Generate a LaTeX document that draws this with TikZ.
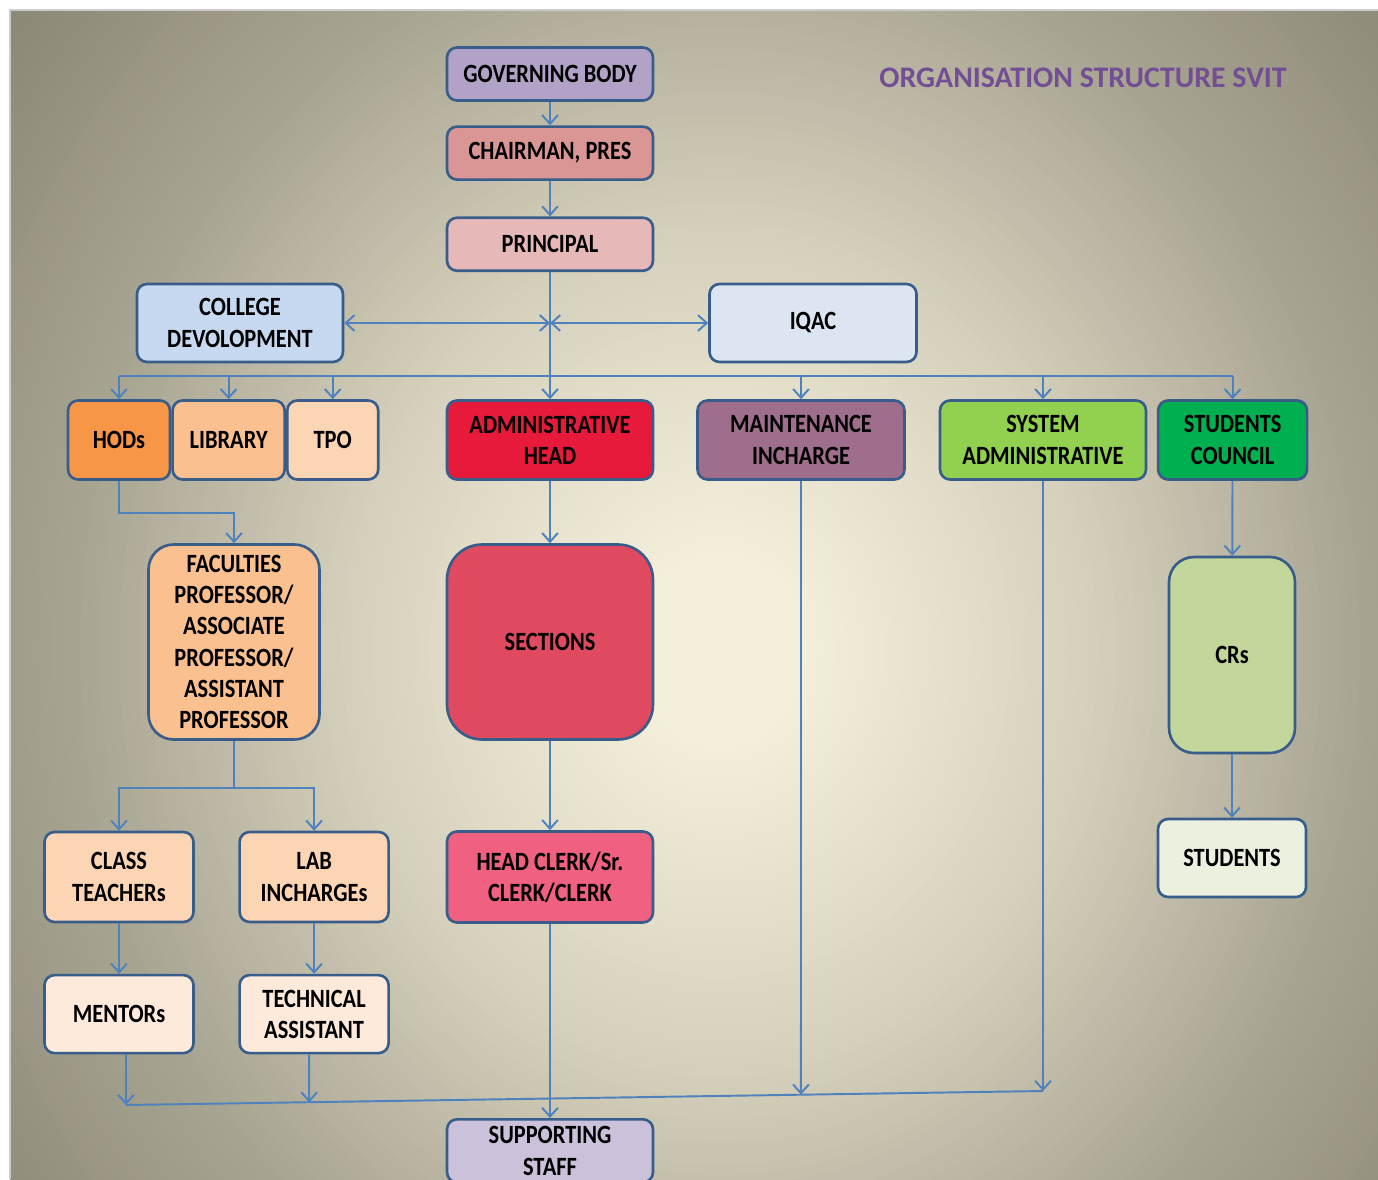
\documentclass[tikz,border=0pt]{standalone}
\usepackage{fontspec}
\setsansfont{Carlito}[FakeStretch=0.85]
\newfontfamily\titlefont{Carlito}
\usepackage{tikz}
\usetikzlibrary{positioning,calc,arrows.meta}
\definecolor{boxline}{RGB}{56,93,138}
\definecolor{conn}{RGB}{79,129,189}
\definecolor{gbfill}{RGB}{179,162,199}
\definecolor{chairfill}{RGB}{218,150,148}
\definecolor{princfill}{RGB}{230,185,184}
\definecolor{cdfill}{RGB}{198,217,241}
\definecolor{iqacfill}{RGB}{220,230,242}
\definecolor{hodfill}{RGB}{247,150,70}
\definecolor{libfill}{RGB}{250,192,144}
\definecolor{tpofill}{RGB}{252,213,181}
\definecolor{adminfill}{RGB}{232,26,60}
\definecolor{maintfill}{RGB}{158,110,140}
\definecolor{sysfill}{RGB}{146,208,80}
\definecolor{councilfill}{RGB}{0,176,80}
\definecolor{sectfill}{RGB}{224,74,96}
\definecolor{crfill}{RGB}{195,214,155}
\definecolor{clerkfill}{RGB}{240,96,128}
\definecolor{studfill}{RGB}{235,241,222}
\definecolor{mentfill}{RGB}{253,234,218}
\definecolor{suppfill}{RGB}{204,193,218}
\definecolor{titlecol}{RGB}{115,78,148}
\definecolor{bgcenter}{RGB}{243,239,218}
\definecolor{bgmid}{RGB}{214,209,188}
\definecolor{bgedge}{RGB}{168,164,146}
\definecolor{bgcorner}{RGB}{138,134,118}

\begin{document}
\begin{tikzpicture}[x=0.02cm, y={(0cm,-0.02cm)},
    >={Straight Barb[length=5pt,width=9pt]},
    unit/.style={draw=boxline, line width=1.5pt, rounded corners=0.2cm,
        align=center, inner sep=0pt, text=black,
        font=\sffamily\bfseries\fontsize{15}{17.8}\selectfont},
    wide/.style={unit, minimum width=4.12cm},
    link/.style={draw=conn, line width=1.1pt}]

    \useasboundingbox (0,0) rectangle (1378,1179);
    \clip (0,0) rectangle (1378,1179);
    \fill [white] (0,0) rectangle (1378,1179);
    \begin{scope}
        \clip (10,10) rectangle (1378,1179);
        \fill [bgcorner] (10,10) rectangle (1378,1179);
        \foreach \k in {0,...,95} {
            \pgfmathsetmacro\tval{1-\k/96}
            \ifdim\tval pt>0.7pt
                \pgfmathtruncatemacro\p{(1-\tval)/0.3*100}
                \colorlet{ring}{bgedge!\p!bgcorner}
            \else\ifdim\tval pt>0.4pt
                \pgfmathtruncatemacro\p{(0.7-\tval)/0.3*100}
                \colorlet{ring}{bgmid!\p!bgedge}
            \else\ifdim\tval pt>0.1pt
                \pgfmathtruncatemacro\p{(0.4-\tval)/0.3*100}
                \colorlet{ring}{bgcenter!\p!bgmid}
            \else
                \colorlet{ring}{bgcenter}
            \fi\fi\fi
            \fill [ring] (720,650) ellipse [x radius=930*\tval, y radius=1050*\tval];
        }
    \end{scope}
    \draw [gray!40, line width=0.6pt] (10,1179) -- (10,10) -- (1378,10);

    \node [font=\titlefont\bfseries\fontsize{17}{20}\selectfont,
        text=titlecol
    ]  (Title) at (1083,78) {ORGANISATION STRUCTURE SVIT};

    \node [wide, fill=gbfill,
        minimum height=1.06cm
    ]  (GoverningBody) at (550,74) {GOVERNING BODY};
    \node [wide, fill=chairfill,
        minimum height=1.06cm,
        below=0.47cm of GoverningBody
    ]  (Chairman) {CHAIRMAN, PRES};
    \node [wide, fill=princfill,
        minimum height=1.06cm,
        below=0.71cm of Chairman
    ]  (Principal) {PRINCIPAL};

    \node [wide, fill=cdfill,
        minimum height=1.56cm
    ]  (CollegeDev) at (240,323) {COLLEGE\\DEVOLOPMENT};
    \node [wide, fill=iqacfill,
        minimum width=4.14cm,
        minimum height=1.56cm
    ]  (IQAC) at (813,323) {IQAC};

    \node [unit, fill=hodfill,
        minimum width=2.04cm,
        minimum height=1.58cm
    ]  (HODs) at (119,440) {HODs};
    \node [unit, fill=libfill,
        minimum width=2.24cm,
        minimum height=1.58cm,
        right=0cm of HODs
    ]  (Library) {LIBRARY};
    \node [unit, fill=tpofill,
        minimum width=1.82cm,
        minimum height=1.58cm,
        right=0cm of Library
    ]  (TPO) {TPO};
    \node [wide, fill=adminfill,
        minimum height=1.58cm
    ]  (AdminHead) at (550,440) {ADMINISTRATIVE\\HEAD};
    \node [wide, fill=maintfill,
        minimum width=4.14cm,
        minimum height=1.58cm
    ]  (Maintenance) at (801,440) {MAINTENANCE\\INCHARGE};
    \node [wide, fill=sysfill,
        minimum height=1.58cm
    ]  (SysAdmin) at (1043,440) {SYSTEM\\ADMINISTRATIVE};
    \node [unit, fill=councilfill,
        minimum width=2.98cm,
        minimum height=1.58cm,
        right=0.19cm of SysAdmin
    ]  (Council) {STUDENTS\\COUNCIL};

    \node [unit, fill=libfill,
        rounded corners=0.5cm,
        minimum width=3.42cm,
        minimum height=3.9cm
    ]  (Faculties) at (234,642) {FACULTIES\\PROFESSOR/\\ASSOCIATE\\PROFESSOR/\\ASSISTANT\\PROFESSOR};
    \node [wide, fill=sectfill,
        rounded corners=0.7cm,
        minimum height=3.9cm
    ]  (Sections) at (550,642) {SECTIONS};
    \node [unit, fill=crfill,
        rounded corners=0.5cm,
        minimum width=2.52cm,
        minimum height=3.92cm
    ]  (CRs) at (1232,655) {CRs};

    \node [unit, fill=tpofill,
        minimum width=2.98cm,
        minimum height=1.8cm
    ]  (ClassTeachers) at (119,877) {CLASS\\TEACHERs};
    \node [unit, fill=tpofill,
        minimum width=2.98cm,
        minimum height=1.8cm,
        right=0.87cm of ClassTeachers
    ]  (LabIncharges) {LAB\\INCHARGEs};
    \node [wide, fill=clerkfill,
        minimum height=1.82cm
    ]  (HeadClerk) at (550,877) {HEAD CLERK/Sr.\\CLERK/CLERK};
    \node [unit, fill=studfill,
        minimum width=2.96cm,
        minimum height=1.56cm
    ]  (Students) at (1232,858) {STUDENTS};

    \node [unit, fill=mentfill,
        minimum width=2.98cm,
        minimum height=1.56cm,
        below=1.01cm of ClassTeachers
    ]  (Mentors) {MENTORs};
    \node [unit, fill=mentfill,
        minimum width=2.98cm,
        minimum height=1.56cm,
        below=1.01cm of LabIncharges
    ]  (TechAssistant) {TECHNICAL\\ASSISTANT};
    \node [wide, fill=suppfill,
        minimum height=1.26cm,
        anchor=north
    ]  (SupportStaff) at (550,1118) {SUPPORTING\\STAFF};

    \draw [link, ->] (GoverningBody) -- (Chairman);
    \draw [link, ->] (Chairman) -- (Principal);
    \draw [link, ->] (Principal) -- (AdminHead);
    \coordinate (Hub) at (Principal.south |- CollegeDev.east);
    \draw [link, <->] (CollegeDev.east) -- (Hub);
    \draw [link, <->] (Hub) -- (IQAC.west);

    \coordinate (BusTop) at (0,376);
    \draw [link] (HODs.north |- BusTop) -- (Council.north |- BusTop);
    \foreach \unitname in {HODs,Library,TPO,Maintenance,SysAdmin,Council}
        \draw [link, ->] (\unitname.north |- BusTop) -- (\unitname.north);

    \draw [link, ->] (HODs.south) -- ++(0,32) -| (Faculties.north);
    \coordinate (FacSplit) at ($(Faculties.south)+(0,47)$);
    \draw [link] (Faculties.south) -- (FacSplit);
    \draw [link, ->] (FacSplit) -| (ClassTeachers.north);
    \draw [link, ->] (FacSplit) -| (LabIncharges.north);
    \draw [link, ->] (ClassTeachers) -- (Mentors);
    \draw [link, ->] (LabIncharges) -- (TechAssistant);

    \draw [link, ->] (AdminHead) -- (Sections);
    \draw [link, ->] (Sections) -- (HeadClerk);
    \draw [link, ->] (HeadClerk) -- (SupportStaff);
    \draw [link, ->] (Council) -- (CRs);
    \draw [link, ->] (CRs) -- (Students);

    \coordinate (BusLeft) at (126,1105);
    \coordinate (BusRight) at (1043,1091);
    \coordinate (TAfoot) at ([xshift=-0.1cm]TechAssistant.south);
    \coordinate (TAup) at ([xshift=-0.1cm]TechAssistant.north);
    \draw [link] (BusLeft) -- (BusRight);
    \draw [link, ->] (Mentors.south -| BusLeft) -- (BusLeft);
    \draw [link, ->] (TAfoot) -- (intersection of BusLeft--BusRight and TAfoot--TAup);
    \draw [link, ->] (Maintenance.south) -- (intersection of BusLeft--BusRight and Maintenance.south--Maintenance.north);
    \draw [link, ->] (SysAdmin.south) -- (BusRight);

\end{tikzpicture}
\end{document}
